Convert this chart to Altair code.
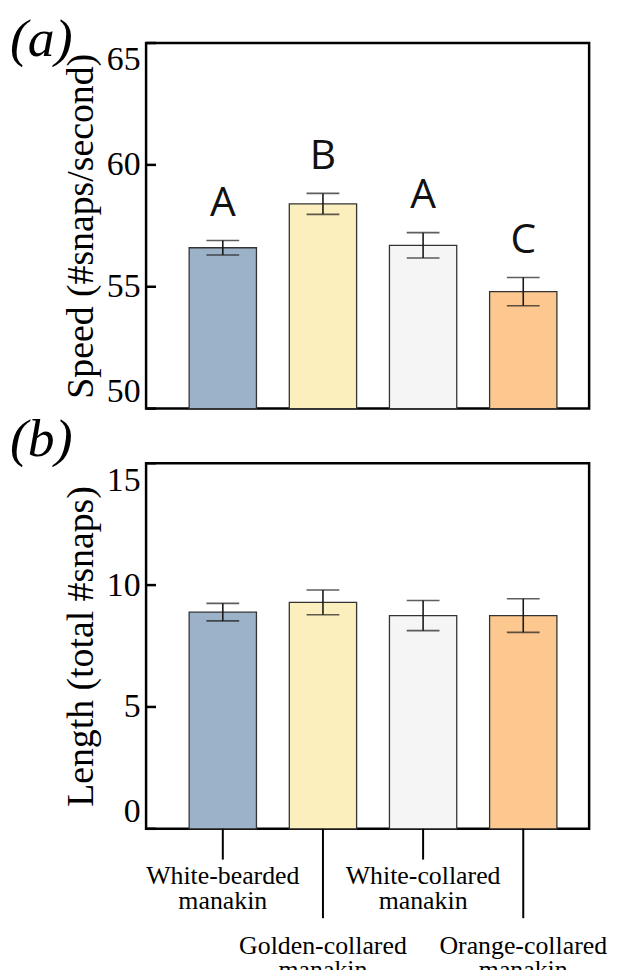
import altair as alt
import pandas as pd

species = ["White-bearded manakin", "Golden-collared manakin",
           "White-collared manakin", "Orange-collared manakin"]
bar_colors = ["#9CB2C9", "#FCEFBE", "#F5F5F5", "#FDC890"]
speed_mean = [56.6, 58.4, 56.7, 54.8]
speed_se = [0.30, 0.43, 0.52, 0.58]
speed_letters = ["A", "B", "A", "C"]
length_mean = [8.89, 9.29, 8.75, 8.75]
length_se = [0.36, 0.51, 0.62, 0.69]
speed_ticks = [50, 55, 60, 65]
length_ticks = [0, 5, 10, 15]

W, H = 446, 368
SERIF = "Liberation Serif"

df_a = pd.DataFrame({"species": species, "mean": speed_mean, "se": speed_se,
                     "letter": speed_letters})
df_b = pd.DataFrame({"species": species, "mean": length_mean, "se": length_se})

xscale = alt.Scale(domain=species, paddingInner=0.328, paddingOuter=0.376, align=0.572)
noaxis = alt.Axis(labels=False, ticks=False, domain=False, title=None, grid=False)


def panel(df, ticks, domain, title, tag, tag_y, letters=False, xlabels=False):
    base = alt.Chart(df).transform_calculate(
        hi="datum.mean + datum.se", lo="datum.mean - datum.se")
    x = alt.X("species:N", scale=xscale, axis=noaxis, sort=species)
    yscale = alt.Scale(domain=domain, nice=False, zero=False)
    yaxis = alt.Axis(values=ticks, title=title, labelFlush=True, ticks=False,
                     domain=False, grid=False, labelPadding=6, titlePadding=6,
                     labelFont=SERIF, labelFontSize=34, labelColor="black",
                     titleFont=SERIF, titleFontSize=38, titleFontWeight="normal",
                     titleColor="black")

    def yenc(f):
        return alt.Y(f, scale=yscale, axis=yaxis)

    bars = base.mark_bar(stroke="#333333", strokeWidth=1.3).encode(
        x=x, y=yenc("mean:Q"), y2=alt.datum(domain[0]),
        color=alt.Color("species:N", scale=alt.Scale(domain=species, range=bar_colors),
                        legend=None))
    stem = base.mark_rule(color="#1a1a1a", strokeWidth=1.6).encode(
        x=x, y=yenc("lo:Q"), y2="hi:Q")
    cap_hi = base.mark_tick(color="#1a1a1a", thickness=1.6, size=33,
                            orient="horizontal").encode(x=x, y=yenc("hi:Q"))
    cap_lo = base.mark_tick(color="#1a1a1a", thickness=1.6, size=33,
                            orient="horizontal").encode(x=x, y=yenc("lo:Q"))
    inward = alt.Chart(pd.DataFrame({"mean": ticks})).mark_rule(
        color="black", strokeWidth=2.5).encode(
        y=yenc("mean:Q"), x=alt.value(0), x2=alt.value(10))
    tagm = alt.Chart(pd.DataFrame({"tag": [tag]})).mark_text(
        font=SERIF, fontStyle="italic", fontSize=54, align="left",
        baseline="alphabetic", color="black").encode(
        x=alt.value(-137), y=alt.value(tag_y), text="tag:N")
    layers = [bars, stem, cap_hi, cap_lo, inward, tagm]
    if letters:
        layers.append(base.mark_text(font="Open Sans", fontSize=41, dy=-25,
                                     baseline="alphabetic", color="#111111").encode(
            x=x, y=yenc("hi:Q"), text="letter:N"))
    if xlabels:
        idx = base.transform_window(i="row_number()")
        odd = idx.transform_filter("datum.i % 2 == 1")
        even = idx.transform_filter("datum.i % 2 == 0")
        layers += [
            odd.mark_rule(color="black", strokeWidth=2).encode(
                x=x, y=alt.value(H), y2=alt.value(399)),
            even.mark_rule(color="black", strokeWidth=2).encode(
                x=x, y=alt.value(H), y2=alt.value(458)),
            odd.mark_text(font=SERIF, fontSize=26, lineBreak=" ", lineHeight=24.3,
                          baseline="alphabetic", color="black").encode(
                x=x, y=alt.value(424), text="species:N"),
            even.mark_text(font=SERIF, fontSize=26, lineBreak=" ", lineHeight=24.3,
                           baseline="alphabetic", color="black").encode(
                x=x, y=alt.value(494), text="species:N"),
        ]
    return alt.layer(*layers).properties(width=W, height=H)


pa = panel(df_a, speed_ticks, [50, 65], "Speed (#snaps/second)", "(a)", 13, letters=True)
pb = panel(df_b, length_ticks, [0, 15], "Length (total #snaps)", "(b)", -7, xlabels=True)

chart = alt.vconcat(pa, pb, spacing=0).properties(
    padding=0, background="white"
).configure_view(stroke="black", strokeWidth=2.5)

chart.save("out.html", embed_options={"renderer": "svg", "actions": False})
